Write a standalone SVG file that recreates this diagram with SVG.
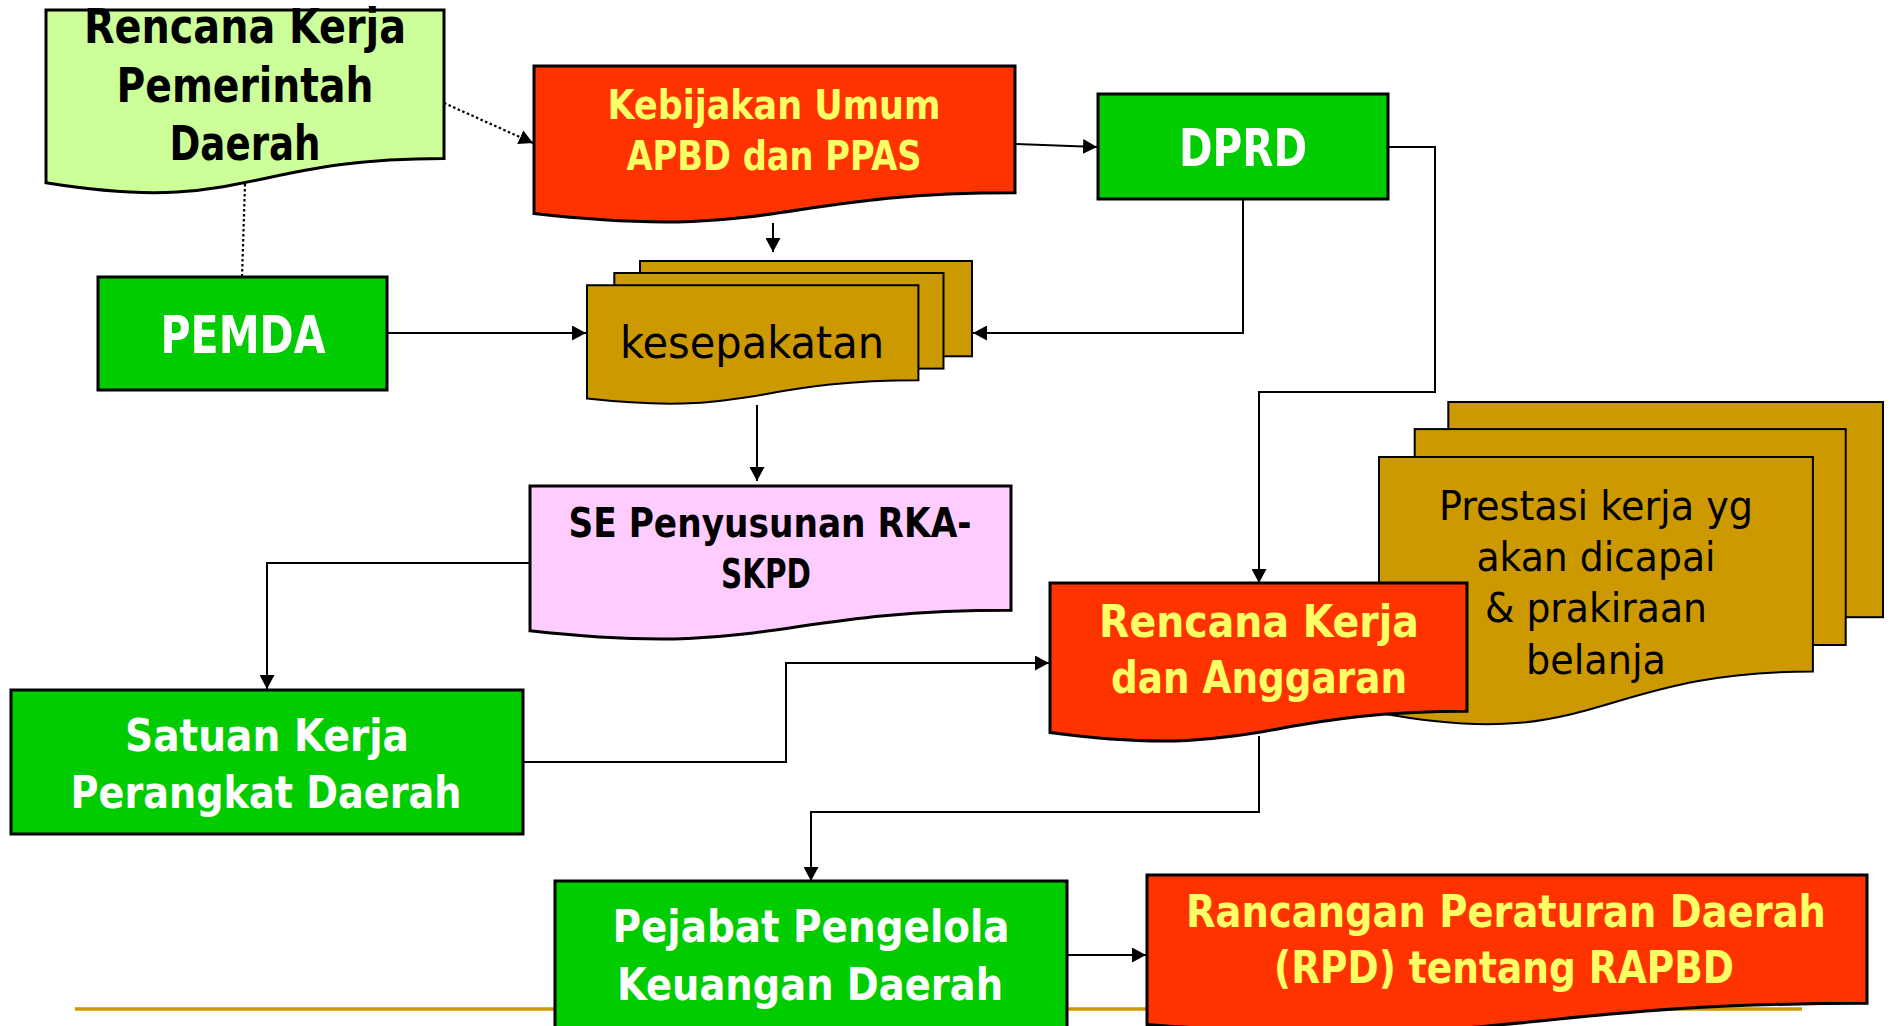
<svg xmlns="http://www.w3.org/2000/svg" width="1890" height="1026" viewBox="0 0 1890 1026">
  <style>
    .t { font-family: "DejaVu Sans Condensed", "DejaVu Sans", sans-serif; font-stretch: condensed; text-anchor: middle; }
    .b { font-weight: bold; }
    .wht { fill: #FFFFFF; }
    .ylw { fill: #FFFF66; }
    .blk { fill: #000000; }
    .box { stroke: #000000; stroke-width: 3; stroke-linejoin: miter; }
    .thin { stroke: #000000; stroke-width: 2; }
    .green { fill: #00CC00; }
    .red { fill: #FF3300; }
    .gold { fill: #CC9900; }
    .pink { fill: #FFCCFF; }
    .lime { fill: #CCFF99; }
    .wire { fill: none; stroke: #000000; stroke-width: 2; }
    .dot { fill: none; stroke: #000000; stroke-width: 2.2; stroke-dasharray: 2.5 2.5; }
  </style>
  <defs>
    <marker id="arrow" markerUnits="userSpaceOnUse" markerWidth="15" markerHeight="15" refX="14" refY="7.5" orient="auto" viewBox="0 0 15 15">
      <path d="M0,0 L14,7.5 L0,15 Z" fill="#000000"/>
    </marker>
  </defs>

  <rect width="1890" height="1026" fill="#FFFFFF"/>

  <!-- footer rule -->
  <line x1="75" y1="1009" x2="1802" y2="1009" stroke="#CC9900" stroke-width="3.5"/>

  <!-- connectors -->
  <g id="connectors">
    <path class="dot" d="M444,103 L533,143" marker-end="url(#arrow)"/>
    <path class="dot" d="M245,184 L242,277"/>
    <path class="wire" d="M1015,144 L1097,147" marker-end="url(#arrow)"/>
    <path class="wire" d="M773,223 L773,252" marker-end="url(#arrow)"/>
    <path class="wire" d="M387,333 L586,333" marker-end="url(#arrow)"/>
    <path class="wire" d="M1243,199 V333 H973" marker-end="url(#arrow)"/>
    <path class="wire" d="M757,405 V481" marker-end="url(#arrow)"/>
    <path class="wire" d="M530,563 H267 V689" marker-end="url(#arrow)"/>
    <path class="wire" d="M523,762 H786 V663 H1049" marker-end="url(#arrow)"/>
    <path class="wire" d="M1388,147 H1435 V392 H1259 V583" marker-end="url(#arrow)"/>
    <path class="wire" d="M1259,736 V812 H811 V881" marker-end="url(#arrow)"/>
    <path class="wire" d="M1067,955 H1146" marker-end="url(#arrow)"/>
  </g>

  <!-- Rencana Kerja Pemerintah Daerah (document) -->
  <g id="rkpd">
    <path class="lime box" d="M46,10 H444 V158.4 C245,158.4 245,214.9 46,182.8 Z"/>
    <text class="t b blk" font-size="48" x="245" y="43" textLength="322" lengthAdjust="spacingAndGlyphs">Rencana Kerja</text>
    <text class="t b blk" font-size="48" x="245" y="102" textLength="257" lengthAdjust="spacingAndGlyphs">Pemerintah</text>
    <text class="t b blk" font-size="48" x="245" y="160" textLength="151" lengthAdjust="spacingAndGlyphs">Daerah</text>
  </g>

  <!-- Kebijakan Umum APBD dan PPAS (document) -->
  <g id="kua-ppas">
    <path class="red box" d="M534,66 H1015 V192.7 C774.5,192.7 774.5,241 534,213.6 Z"/>
    <text class="t b ylw" font-size="41" x="774" y="119" textLength="333" lengthAdjust="spacingAndGlyphs">Kebijakan Umum</text>
    <text class="t b ylw" font-size="41" x="774" y="170" textLength="295" lengthAdjust="spacingAndGlyphs">APBD dan PPAS</text>
  </g>

  <!-- DPRD -->
  <g id="dprd">
    <rect class="green box" x="1098" y="94" width="290" height="105"/>
    <text class="t b wht" font-size="52" x="1243" y="166" textLength="128" lengthAdjust="spacingAndGlyphs">DPRD</text>
  </g>

  <!-- PEMDA -->
  <g id="pemda">
    <rect class="green box" x="98" y="277" width="289" height="113"/>
    <text class="t b wht" font-size="51" x="243" y="353" textLength="165" lengthAdjust="spacingAndGlyphs">PEMDA</text>
  </g>

  <!-- kesepakatan (multi-document) -->
  <g id="kesepakatan">
    <rect class="gold thin" x="640" y="261" width="332" height="95.3"/>
    <rect class="gold thin" x="614.3" y="273" width="329.2" height="95.6"/>
    <path class="gold thin" d="M587,398.6 C752.7,416.9 752.7,380.3 918.4,380.3 V285.3 H587 Z"/>
    <text class="t blk" font-size="45" x="752" y="358" textLength="264" lengthAdjust="spacingAndGlyphs">kesepakatan</text>
  </g>

  <!-- SE Penyusunan RKA-SKPD (document) -->
  <g id="se-rka">
    <path class="pink box" d="M530,486 H1011 V610.3 C770.5,610.3 770.5,657.7 530,630.8 Z"/>
    <text class="t b blk" font-size="40" x="770" y="537" textLength="403" lengthAdjust="spacingAndGlyphs">SE Penyusunan RKA-</text>
    <text class="t b blk" font-size="40" x="766" y="588" textLength="90" lengthAdjust="spacingAndGlyphs">SKPD</text>
  </g>

  <!-- Prestasi kerja (multi-document) -->
  <g id="prestasi">
    <rect class="gold thin" x="1448.3" y="402" width="434.7" height="215.2"/>
    <rect class="gold thin" x="1414.7" y="429.1" width="431" height="215.9"/>
    <path class="gold thin" d="M1379,712.8 C1596,754 1596,671.5 1812.9,671.5 V457 H1379 Z"/>
    <text class="t blk" font-size="40" x="1596" y="520" textLength="314" lengthAdjust="spacingAndGlyphs">Prestasi kerja yg</text>
    <text class="t blk" font-size="40" x="1596" y="571" textLength="239" lengthAdjust="spacingAndGlyphs">akan dicapai</text>
    <text class="t blk" font-size="40" x="1596" y="622" textLength="222" lengthAdjust="spacingAndGlyphs">&amp; prakiraan</text>
    <text class="t blk" font-size="40" x="1596" y="674" textLength="140" lengthAdjust="spacingAndGlyphs">belanja</text>
  </g>

  <!-- Rencana Kerja dan Anggaran (document) -->
  <g id="rka">
    <path class="red box" d="M1050,583 H1467 V711.3 C1258.5,711.3 1258.5,760.2 1050,732.4 Z"/>
    <text class="t b ylw" font-size="45" x="1259" y="637" textLength="320" lengthAdjust="spacingAndGlyphs">Rencana Kerja</text>
    <text class="t b ylw" font-size="45" x="1259" y="693" textLength="296" lengthAdjust="spacingAndGlyphs">dan Anggaran</text>
  </g>

  <!-- Satuan Kerja Perangkat Daerah -->
  <g id="skpd">
    <rect class="green box" x="11" y="690" width="512" height="144"/>
    <text class="t b wht" font-size="45" x="267" y="751" textLength="284" lengthAdjust="spacingAndGlyphs">Satuan Kerja</text>
    <text class="t b wht" font-size="45" x="266" y="808" textLength="391" lengthAdjust="spacingAndGlyphs">Perangkat Daerah</text>
  </g>

  <!-- Pejabat Pengelola Keuangan Daerah -->
  <g id="ppkd">
    <rect class="green box" x="555" y="881" width="512" height="152"/>
    <text class="t b wht" font-size="45" x="811" y="942" textLength="397" lengthAdjust="spacingAndGlyphs">Pejabat Pengelola</text>
    <text class="t b wht" font-size="45" x="810" y="1000" textLength="386" lengthAdjust="spacingAndGlyphs">Keuangan Daerah</text>
  </g>

  <!-- Rancangan Peraturan Daerah (document) -->
  <g id="rapbd">
    <path class="red box" d="M1147,875 H1867 V1003.3 C1507,1003.3 1507,1052.2 1147,1024.4 Z"/>
    <text class="t b ylw" font-size="45" x="1506" y="927" textLength="640" lengthAdjust="spacingAndGlyphs">Rancangan Peraturan Daerah</text>
    <text class="t b ylw" font-size="45" x="1504" y="983" textLength="460" lengthAdjust="spacingAndGlyphs">(RPD) tentang RAPBD</text>
  </g>
</svg>
